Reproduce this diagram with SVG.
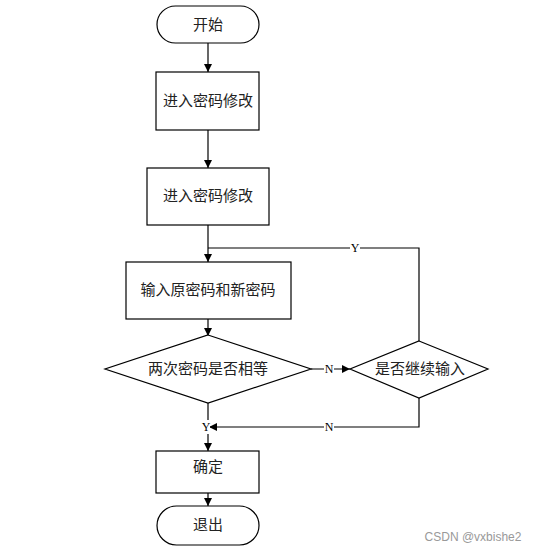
<svg xmlns="http://www.w3.org/2000/svg" width="540" height="552" viewBox="0 0 540 552">
<defs>
<marker id="arr" viewBox="0 0 10 10" refX="10" refY="5" markerWidth="8" markerHeight="8" markerUnits="userSpaceOnUse" orient="auto">
<path d="M0,0 L10,5 L0,10 z" fill="#000"/>
</marker>
</defs>
<style>
.shape{fill:#fff;stroke:#000;stroke-width:1.2}
.t{font-family:"Liberation Serif","Noto Sans CJK SC",serif;font-size:15px;fill:#222;text-anchor:middle;dominant-baseline:central}
.lbl{font-family:"Liberation Serif",serif;font-size:12px;fill:#000;text-anchor:middle;dominant-baseline:central}
.c{fill:none;stroke:#000;stroke-width:1.2}
.bg{fill:#fff}
</style>
<rect width="540" height="552" fill="#fff"/>
<g id="connectors">
<line class="c" x1="208" y1="43" x2="208" y2="72" marker-end="url(#arr)"/>
<line class="c" x1="208" y1="130" x2="208" y2="168" marker-end="url(#arr)"/>
<line class="c" x1="208" y1="225" x2="208" y2="262" marker-end="url(#arr)"/>
<line class="c" x1="208" y1="319" x2="208" y2="336" marker-end="url(#arr)"/>
<line class="c" x1="311" y1="369" x2="350" y2="369" marker-end="url(#arr)"/>
<polyline class="c" points="419,341 419,248 208,248"/>
<polyline class="c" points="419,398 419,427 209,427" marker-end="url(#arr)"/>
<line class="c" x1="208" y1="403" x2="208" y2="451" marker-end="url(#arr)"/>
<line class="c" x1="208" y1="493" x2="208" y2="506" marker-end="url(#arr)"/>
<rect class="bg" x="324" y="362" width="10" height="14"/>
<text class="lbl" x="329" y="369">N</text>
<rect class="bg" x="350" y="241" width="10" height="14"/>
<text class="lbl" x="355" y="248">Y</text>
<rect class="bg" x="324" y="420" width="10" height="14"/>
<text class="lbl" x="329" y="427">N</text>
<rect class="bg" x="202" y="420" width="8" height="14"/>
<text class="lbl" x="206" y="427">Y</text>
</g>
<g id="start">
<rect class="shape" x="157" y="6" width="102" height="37" rx="18.5"/>
<text class="t" x="208" y="25">开始</text>
</g>
<g id="box1">
<rect class="shape" x="156" y="72" width="103" height="58"/>
<text class="t" x="208" y="101">进入密码修改</text>
</g>
<g id="box2">
<rect class="shape" x="147" y="168" width="122" height="57"/>
<text class="t" x="208" y="196">进入密码修改</text>
</g>
<g id="box3">
<rect class="shape" x="126" y="262" width="165" height="57"/>
<text class="t" x="208" y="290">输入原密码和新密码</text>
</g>
<g id="diamond1">
<polygon class="shape" points="208,335 311,369 208,403 105,369"/>
<text class="t" x="208" y="369">两次密码是否相等</text>
</g>
<g id="diamond2">
<polygon class="shape" points="419,341 488,369 419,398 350,369"/>
<text class="t" x="420" y="369">是否继续输入</text>
</g>
<g id="box4">
<rect class="shape" x="156" y="451" width="103" height="42"/>
<text class="t" x="208" y="467">确定</text>
</g>
<g id="end">
<rect class="shape" x="157" y="506" width="102" height="39" rx="19.5"/>
<text class="t" x="208" y="525">退出</text>
</g>
<text x="473" y="537" font-family="Liberation Sans,Arial,sans-serif" font-size="12" fill="#999" text-anchor="middle" dominant-baseline="central">CSDN @vxbishe2</text>
</svg>
